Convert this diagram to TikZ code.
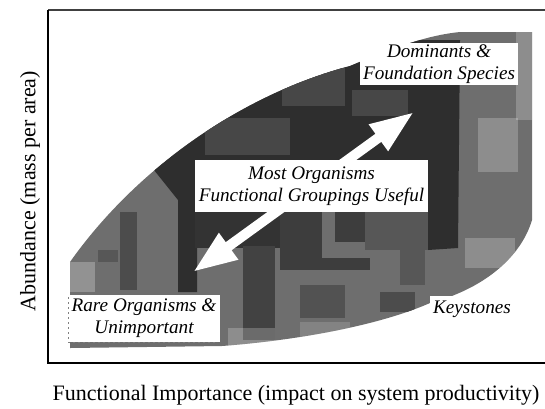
\documentclass[tikz,border=0pt]{standalone}
\usepackage{fontspec}
\setmainfont{Liberation Serif}
\usetikzlibrary{arrows.meta}

\begin{document}
\begin{tikzpicture}[x=0.5pt, y=-0.5pt,
		etiqueta/.style = {fill = white, inner sep = 0pt, align = center,
			font = \fontsize{9.6}{11}\selectfont\itshape},
		eix/.style = {font = \fontsize{11}{13}\selectfont},
		fletxa/.style = {white, line width = 5pt,
			{Triangle[length = 22pt, width = 15pt]}-{Triangle[length = 22pt, width = 15pt]}}]
			\useasboundingbox (0,0) rectangle (545,408);
			% taca grisa (tot el que va a dins queda retallat)
			\begin{scope}
				\clip (70,348) -- (70,262) .. controls (135,170) and (240,95) .. (350,66)
					.. controls (400,45) and (430,35) .. (460,32) -- (532,32) -- (532,220)
					.. controls (520,260) and (480,290) .. (430,303)
					.. controls (380,325) and (300,340) .. (222,346) -- cycle;
				\fill[black!57] (0,0) rectangle (545,408);
				% banda fosca de dalt i columna de l'esquerra
				\fill[black!82] (140,160) -- (340,40) -- (460,40) -- (458,248) -- (428,250)
					-- (428,175) -- (197,175) -- (197,292) -- (178,292) -- (178,200) -- (150,165) -- cycle;
				% barres fosques de sota el quadre
				\fill[black!80] (195,210) rectangle (282,248);
				\fill[black!74] (243,246) rectangle (275,340);
				\fill[black!76] (280,210) rectangle (322,268);
				\fill[black!76] (335,210) rectangle (365,242);
				\fill[black!76] (280,258) rectangle (370,270);
				\fill[black!66] (365,212) rectangle (428,250);
				% zones barrejades dins la banda fosca
				\fill[black!72] (205,118) rectangle (290,155);
				\fill[black!72] (282,68) rectangle (345,106);
				\fill[black!72] (352,90) rectangle (408,116);
				% taques fosques
				\fill[black!70] (120,212) rectangle (137,290);
				\fill[black!66] (98,250) rectangle (118,262);
				\fill[black!68] (300,285) rectangle (345,318);
				\fill[black!70] (380,292) rectangle (415,312);
				\fill[black!66] (400,250) rectangle (425,285);
				% taques clares
				\fill[white, opacity = 0.22] (478,118) rectangle (518,172);
				\fill[white, opacity = 0.22] (465,238) rectangle (515,268);
				\fill[white, opacity = 0.25] (70,262) rectangle (95,292);
				\fill[white, opacity = 0.22] (228,328) rectangle (275,348);
				\fill[white, opacity = 0.15] (300,322) rectangle (350,342);
				\fill[white, opacity = 0.22] (516,32) rectangle (532,120);
			\end{scope}
			% fletxa doble
			\coordinate (baix) at (193,272);
			\coordinate (dalt) at (414,112);
			\draw[fletxa] (baix) -- (dalt);
			% etiquetes
			\node[etiqueta, minimum width = 79pt, minimum height = 21pt] (dominants) at (439,64) {Dominants \&\\Foundation Species};
			\node[etiqueta, minimum width = 116.5pt, minimum height = 26pt] (majoria) at (311.5,186) {Most Organisms\\Functional Groupings Useful};
			\node[etiqueta, minimum width = 76pt, minimum height = 23.5pt] (rares) at (144,318.5) {Rare Organisms \&\\Unimportant};
			\node[etiqueta, minimum width = 42.5pt, minimum height = 13pt] (claus) at (472,309) {Keystones};
			\draw[gray, dash pattern = on 1pt off 1.5pt, line width = 0.4pt] (68,297) -- (68,342) -- (218,342);
			% eixos
			\draw[black!75, line width = 1pt] (48,10) -- (548,10);
			\draw[line width = 1pt] (48,10) -- (48,363) -- (548,363);
			\node[eix, rotate = 90] (eixy) at (30,191) {Abundance (mass per area)};
			\node[eix] (eixx) at (296,395) {Functional Importance (impact on system productivity)};
		\end{tikzpicture}
\end{document}
